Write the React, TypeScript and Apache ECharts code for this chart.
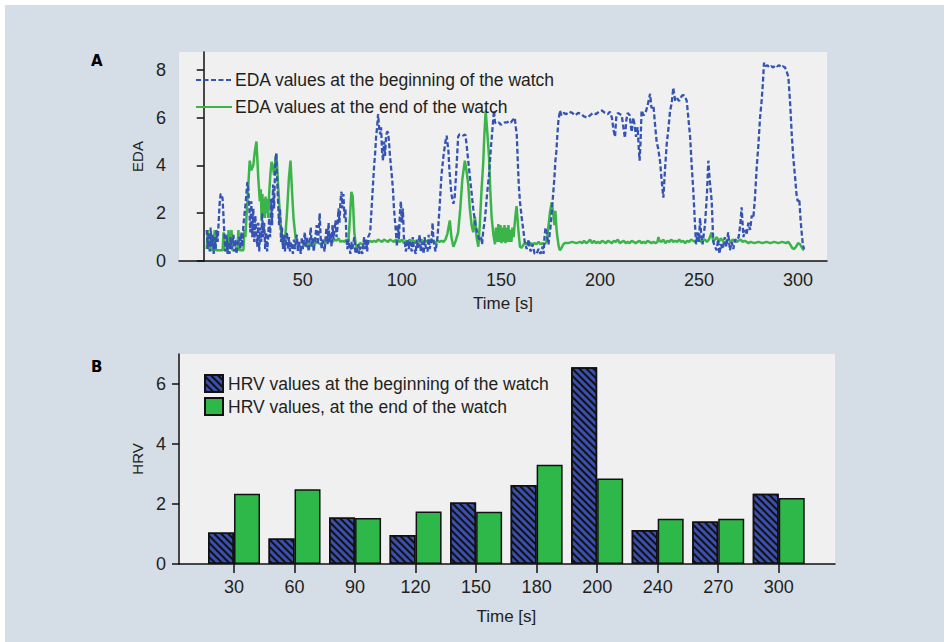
import React, { useEffect, useRef } from "react";
import * as echarts from "echarts";

// ---- Panel A: EDA traces [time (s), EDA] ----
const edaBeginning: number[][] = [
  [1.5,1.3],[2,0.5],[2.5,1.2],[3,0.4],[3.5,1.4],[4,0.6],[4.5,1.1],[5,0.3],[5.5,1.0],[6,0.5],[6.5,1.3],[7,0.8],[7.5,1.6],[8,2.4],[8.5,2.8],[9,2.8],[9.5,2.6],[10,1.8],[10.5,1.0],[11,0.4],[11.5,1.1],[12,0.3],[12.5,0.8],[13,0.3],[13.5,1.0],[14,0.5],[15,1.1],[15.5,0.4],[16,0.9],[16.5,0.3],[17,0.7],[18,1.0],[18.5,0.5],[19,1.2],[19.5,0.6],[20,1.5],[21,2.3],[22,3.3],[22.5,3.0],[23,2.2],[23.5,1.2],[24,2.5],[24.5,1.0],[25,2.2],[25.5,0.8],[26,1.9],[26.5,1.2],[27,0.6],[27.5,1.6],[28,0.4],[28.5,1.4],[29,0.8],[29.5,2.0],[30,1.0],[30.5,1.6],[31,0.5],[31.5,1.2],[32,0.4],[32.5,1.0],[33,1.8],[33.5,1.0],[34,2.6],[34.5,1.5],[35,3.2],[35.5,2.2],[36,3.9],[36.5,4.5],[37,3.5],[37.5,2.5],[38,1.5],[38.5,2.2],[39,0.8],[39.5,1.4],[40,0.5],[40.5,1.1],[41,0.4],[41.5,0.9],[42,1.2],[42.5,0.5],[43,1.0],[43.5,0.4],[44,0.8],[45,0.3],[45.5,0.9],[46,0.5],[47,1.1],[47.5,0.4],[48,0.8],[49,0.3],[49.5,1.0],[50,0.5],[51,1.2],[51.5,0.6],[52,1.0],[53,0.4],[53.5,0.9],[54,1.4],[54.5,0.6],[55,1.0],[55.5,0.4],[56,0.8],[57,1.5],[57.5,0.7],[58,1.2],[58.5,2.0],[59,1.0],[59.5,0.5],[60,0.9],[61,0.4],[61.5,1.0],[62,1.4],[62.5,0.7],[63,1.6],[63.5,0.8],[64,1.2],[64.5,0.6],[65,1.5],[65.5,0.9],[66,1.3],[66.5,1.7],[67,1.0],[67.5,1.4],[68,2.2],[68.5,1.6],[69,2.5],[69.5,2.9],[70,2.2],[70.5,2.8],[71,1.8],[71.5,2.2],[72,1.0],[72.5,0.5],[73,0.9],[74,0.3],[74.5,0.8],[75,0.5],[76,1.0],[76.5,0.4],[77,0.3],[78,0.7],[78.5,0.3],[79,0.6],[80,0.3],[80.5,0.7],[81,1.0],[81.5,0.5],[82,0.9],[82.5,0.4],[83,1.0],[84,1.2],[85,2.6],[86,4.0],[86.5,4.5],[87,5.2],[87.5,5.6],[88,6.15],[88.5,5.6],[89,5.3],[89.5,5.6],[90,4.6],[90.5,4.2],[91,5.0],[91.5,4.4],[92,5.2],[92.5,5.4],[93,5.4],[93.5,5.0],[94,4.4],[95,3.5],[95.5,3.0],[96,2.2],[97,1.2],[97.5,0.6],[98,1.5],[98.5,0.9],[99,2.0],[99.5,2.5],[100,1.6],[100.5,2.2],[101,1.0],[101.5,0.8],[102,0.4],[103,0.9],[103.5,0.5],[104,0.8],[105,0.4],[105.5,1.0],[106,0.6],[107,0.3],[107.5,0.9],[108,0.5],[109,1.1],[109.5,0.4],[110,0.8],[111,0.3],[111.5,1.0],[112,0.6],[113,0.4],[113.5,1.1],[114,0.5],[115,0.9],[115.5,1.6],[116,0.8],[117,0.4],[118,1.0],[119,2.2],[120,3.6],[121,4.4],[122,5.0],[122.6,5.25],[123.5,4.6],[124,3.8],[125,2.8],[126,2.4],[126.6,2.6],[127.5,3.8],[128.4,5.2],[129,5.3],[130,5.3],[131,5.25],[132,5.3],[132.5,5.0],[133.3,4.35],[134,3.8],[135,3.0],[136,2.2],[137,1.6],[138,1.2],[139,0.9],[140,1.0],[140.5,0.7],[141,1.2],[142,1.8],[143,2.8],[144,3.6],[145,4.8],[146,5.8],[146.5,6.3],[147,5.8],[148,5.75],[149,5.8],[150,5.7],[151,5.75],[152,5.8],[153,5.8],[154,5.85],[155,5.8],[156,5.9],[157,6.0],[157.5,5.6],[158,5.3],[158.5,4.2],[159,3.2],[159.6,2.5],[160.5,1.8],[161.3,1.3],[162,0.8],[163,0.5],[164,0.9],[164.5,0.6],[165,0.4],[166,0.7],[167,0.3],[168,0.3],[169,0.5],[170,0.3],[171,0.6],[171.5,0.3],[172,1.0],[172.5,1.4],[173,1.2],[174,0.7],[175,1.4],[176,2.4],[177,3.5],[177.5,4.2],[178,4.6],[178.5,5.3],[179,5.85],[179.8,6.3],[180.5,6.1],[181.5,6.2],[183,6.15],[184.5,6.25],[186,6.2],[187.5,6.1],[189,6.2],[190.5,6.15],[192,6.05],[193.5,6.0],[195,6.1],[196.5,6.2],[198,6.15],[199.5,6.25],[201,6.3],[202.5,6.2],[204,6.15],[205,6.25],[206,6.0],[206.8,5.5],[207.6,5.2],[208.2,6.0],[209,6.2],[210,6.15],[211,6.1],[211.8,5.6],[212.6,5.15],[213.3,5.9],[214,6.2],[215,6.1],[215.5,5.7],[216,5.4],[216.8,6.0],[217.5,5.7],[218.2,5.2],[219,5.6],[219.6,4.7],[220,4.2],[220.5,5.0],[221,6.3],[222,6.1],[223,6.2],[224,6.5],[225.3,7.0],[226,6.4],[227,6.5],[227.7,5.8],[228.6,5.0],[229.4,4.7],[230.3,4.2],[231,3.5],[232,2.65],[232.8,3.8],[233.7,4.9],[234.5,5.5],[235.4,6.3],[236.2,6.6],[237,7.25],[238,6.7],[239,6.8],[240,6.7],[241.2,6.9],[242,6.95],[242.9,6.9],[243.8,6.7],[244.6,6.0],[245.5,5.2],[246.3,4.0],[247.1,2.95],[247.8,1.8],[248.5,0.7],[249.3,1.2],[250,0.8],[250.5,1.8],[251.2,1.0],[251.8,0.7],[252.5,1.2],[253,1.5],[254,2.8],[254.7,4.2],[255.5,3.3],[256.4,2.5],[257.2,0.8],[258,0.6],[258.9,0.45],[259.6,0.9],[260.3,0.3],[261,0.7],[262,0.5],[263,1.0],[263.8,0.6],[264.7,1.2],[265.6,0.45],[266.5,0.8],[267.3,0.5],[268.2,0.9],[269,0.85],[270,1.0],[270.8,1.5],[271.5,2.25],[272.4,1.0],[273.2,1.3],[274,1.1],[274.9,1.6],[275.8,1.3],[276.6,1.9],[277.4,1.8],[278.2,2.6],[279.1,3.9],[280,4.9],[280.8,6.0],[281.5,6.6],[282.2,7.4],[282.8,8.3],[283.5,8.15],[284.5,8.2],[285.5,8.1],[286.5,8.15],[287.5,8.1],[288.5,8.2],[289.5,8.15],[290.5,8.2],[291.5,8.1],[292.5,8.15],[293.4,8.1],[294.2,7.95],[295.1,7.7],[296,6.6],[296.8,5.3],[297.6,4.3],[298.5,3.5],[299.2,2.8],[299.8,2.5],[300.6,2.6],[301.2,1.8],[301.8,1.2],[302.4,0.7],[303,0.5]
];

const edaEnd: number[][] = [
  [1.5,0.5],[2,1.3],[2.5,0.5],[3,1.1],[3.5,0.45],[5,0.45],[5.5,1.3],[6,0.45],[9.5,0.45],[10,1.2],[10.5,0.45],[12,0.45],[12.5,1.3],[13,0.5],[14,1.3],[14.5,0.45],[17,0.45],[17.5,1.3],[18,0.45],[20,0.45],[20.5,1.3],[21,1.0],[22,2.5],[23.2,4.2],[24,3.8],[25,4.0],[25.8,4.6],[26.6,5.0],[27.5,3.5],[28.3,2.5],[28.8,3.0],[29.2,1.7],[29.6,2.8],[30,1.9],[30.4,2.6],[30.8,1.8],[31.2,2.7],[31.6,2.0],[32,2.6],[32.5,1.8],[33,2.8],[33.6,3.6],[34.2,4.15],[35,3.9],[35.5,3.6],[36.2,4.3],[36.7,4.5],[37.5,3.2],[38.4,2.0],[39.2,1.2],[40,0.7],[41,0.85],[42,2.0],[43,3.5],[43.8,4.2],[44.5,3.0],[45.3,1.8],[46.5,0.85],[47.5,0.7],[48.5,0.5],[50,0.6],[51,0.7],[52,0.6],[53,0.75],[54,0.65],[55,0.75],[56,0.7],[57,0.8],[58,0.75],[59,0.7],[60,0.8],[61,0.75],[62,0.85],[63,0.8],[64,0.9],[65,0.8],[66,0.9],[67,0.85],[68,0.95],[69,0.8],[70,0.85],[71,0.8],[72,0.9],[73,0.8],[73.8,1.8],[74.5,2.9],[75.2,2.7],[76,1.2],[77,0.5],[78,0.65],[79,0.75],[80,0.7],[81,0.75],[82,0.8],[83,0.75],[84,0.85],[85,0.8],[86,0.85],[87,0.8],[88,0.9],[89,0.85],[90,0.8],[91,0.9],[92,0.85],[93,0.8],[94,0.9],[95,0.85],[96,0.8],[97,0.9],[98,0.85],[99,0.8],[100,0.9],[101,0.75],[102,0.85],[103,0.8],[104,0.9],[105,0.8],[106,0.85],[107,0.75],[108,0.85],[109,0.8],[110,0.9],[111,0.75],[112,0.85],[113,0.8],[114,0.9],[115,0.8],[116,0.85],[117,0.75],[118,0.85],[119,0.8],[120,0.85],[121,0.8],[122,0.9],[123,1.15],[124.2,1.7],[125,1.0],[126,0.6],[127,0.8],[128.4,1.2],[129.5,2.2],[130.5,3.4],[131.8,4.2],[132.6,3.8],[133.5,3.2],[134.3,2.2],[135.2,1.5],[136,1.2],[136.9,1.85],[137.7,1.0],[138.6,0.6],[139.4,1.6],[140.2,2.95],[141,4.0],[141.6,5.2],[142.3,6.3],[143.2,5.3],[144,4.35],[144.6,3.0],[145.3,1.85],[146.2,1.1],[147,0.7],[147.5,1.4],[148,0.8],[148.7,1.55],[149.2,0.8],[149.8,1.5],[150.3,0.75],[150.8,1.4],[151.3,0.8],[151.8,1.5],[152.3,0.75],[152.8,1.4],[153.3,0.8],[153.8,1.5],[154.3,0.8],[154.8,1.3],[155.3,0.8],[155.8,1.4],[156.4,1.0],[157.2,1.8],[157.9,2.3],[158.7,1.4],[159.6,0.6],[160.4,0.55],[161.5,0.7],[163,0.75],[164,0.65],[165,0.75],[166,0.7],[167,0.75],[168,0.7],[169,0.8],[170,0.7],[171,0.75],[172,0.7],[173,0.8],[173.8,1.3],[174.7,2.0],[175.6,2.45],[176.4,2.0],[177,1.5],[177.5,2.1],[178,1.4],[178.5,1.0],[179.2,0.6],[179.8,0.45],[180.6,0.55],[181.5,0.7],[182.3,0.75],[184,0.75],[186,0.8],[188,0.75],[190,0.8],[191,0.75],[192,0.85],[193,0.75],[194,0.8],[195,0.9],[196,0.75],[197,0.85],[198,0.75],[199,0.8],[200,0.75],[201,0.85],[202,0.8],[203,0.75],[204,0.85],[205,0.8],[206,0.75],[207,0.85],[208,0.8],[209,0.9],[210,0.75],[211,0.8],[212,0.85],[213,0.75],[214,0.8],[215,0.75],[216,0.85],[217,0.8],[218,0.75],[219,0.8],[220,0.85],[221,0.75],[222,0.8],[223,0.75],[224,0.85],[225,0.8],[226,0.75],[227,0.8],[228,0.75],[229,0.8],[229.5,1.0],[230,0.85],[231,0.8],[232,0.9],[233,0.75],[234,0.85],[235,0.8],[236,0.9],[237,0.8],[238,0.85],[239,0.8],[240,0.9],[241,0.8],[242,0.85],[243,0.75],[244,0.85],[245,0.8],[246,0.9],[247,0.85],[248,0.8],[249,0.85],[250,0.9],[251,0.8],[252,0.85],[253,0.9],[254,0.8],[255,0.9],[256.4,1.2],[257.2,0.8],[258,0.9],[259,1.0],[260,0.8],[261,0.95],[262,0.85],[263,0.75],[264,0.85],[265,0.9],[266,0.8],[267,0.9],[268,0.85],[269,0.8],[270,0.85],[271,0.9],[272,0.8],[273,0.85],[274,0.8],[275,0.75],[276,0.8],[278,0.75],[280,0.8],[282,0.75],[284,0.8],[286,0.75],[288,0.8],[290,0.75],[292,0.8],[294,0.75],[295,0.8],[296,0.7],[297,0.55],[298,0.5],[299,0.6],[300,0.75],[301,0.7],[302.4,0.5],[303,0.45]
];

const edaTimeTicks = [50, 100, 150, 200, 250, 300];
const edaValueTicks = [0, 2, 4, 6, 8];

// ---- Panel B: HRV bars ----
const hrvCategories = ["30", "60", "90", "120", "150", "180", "200", "240", "270", "300"];
const hrvBeginning = [1.05, 0.85, 1.55, 0.97, 2.05, 2.63, 6.56, 1.13, 1.42, 2.34];
const hrvEnd = [2.34, 2.49, 1.53, 1.75, 1.74, 3.31, 2.85, 1.51, 1.51, 2.2];
const hrvValueTicks = [0, 2, 4, 6];

const FONT = "Liberation Sans, Arial, sans-serif";
const TXT = "#231f20";
const BLUE = "#3553b3";
const GREEN = "#3bb54a";
const BAR_BLUE = "#3a4fae";
const BAR_GREEN = "#2fb84a";
const PLOT_BG = "#f0f0f0";
const PANEL_BG = "#d5dde6";

export default function App() {
  const ref = useRef<HTMLDivElement>(null);
  useEffect(() => {
    if (!ref.current) return;
    const chart = echarts.init(ref.current, null, { renderer: "svg" });
    const axisLineStyle = { color: "#111", width: 1.5 };
    const labelStyle = { fontFamily: FONT, fontSize: 18, color: TXT };
    const option: any = {
      animation: false,
      backgroundColor: "#ffffff",
      textStyle: { fontFamily: FONT },
      graphic: [
        { type: "rect", z: -100, shape: { x: 5, y: 5, width: 939, height: 637 }, style: { fill: PANEL_BG } },
        { type: "text", x: 91, y: 53, style: { text: "A", font: `900 15px DejaVu Sans, ${FONT}`, fill: "#000" } },
        { type: "text", x: 91, y: 359, style: { text: "B", font: `900 15px DejaVu Sans, ${FONT}`, fill: "#000" } },
      ],
      grid: [
        { left: 179, top: 52, width: 648, height: 209, show: true, backgroundColor: PLOT_BG, borderWidth: 0 },
        { left: 179, top: 354, width: 656, height: 210, show: true, backgroundColor: PLOT_BG, borderWidth: 0 },
        { left: 203.75, top: 354, width: 605.25, height: 210 },
      ],
      legend: [
        {
          orient: "vertical", left: 190, top: 66, itemWidth: 36, itemHeight: 14, itemGap: 9,
          textStyle: { fontFamily: FONT, fontSize: 17.5, color: TXT, padding: [0, 0, 0, -2] },
          data: [
            { name: "EDA values at the beginning of the watch", itemStyle: { opacity: 0 } },
            { name: "EDA values at the end of the watch", itemStyle: { opacity: 0 } },
          ],
        },
        {
          orient: "vertical", left: 199, top: 369, itemWidth: 18, itemHeight: 17, itemGap: 4,
          icon: "rect",
          textStyle: { fontFamily: FONT, fontSize: 17.5, color: TXT },
          data: ["HRV values at the beginning of the watch", "HRV values, at the end of the watch"],
        },
      ],
      xAxis: [
        {
          type: "value", gridIndex: 0, min: -12.5, max: 314.6,
          axisLine: { show: true, lineStyle: axisLineStyle },
          axisTick: { show: false },
          splitLine: { show: false },
          axisLabel: { ...labelStyle, margin: 10, customValues: edaTimeTicks },
          name: "Time [s]", nameLocation: "middle", nameGap: 34,
          nameTextStyle: { fontFamily: FONT, fontSize: 17, color: TXT },
        },
        {
          type: "value", gridIndex: 1, min: 0, max: 1,
          axisLine: { show: true, lineStyle: axisLineStyle },
          axisTick: { show: false }, axisLabel: { show: false }, splitLine: { show: false },
        },
        {
          type: "category", gridIndex: 2, data: hrvCategories,
          axisLine: { show: false },
          axisTick: { show: true, alignWithLabel: true, length: 9, lineStyle: { color: "#111", width: 1.5 } },
          axisLabel: { ...labelStyle, margin: 14 },
          splitLine: { show: false },
          name: "Time [s]", nameLocation: "middle", nameGap: 44,
          nameTextStyle: { fontFamily: FONT, fontSize: 17, color: TXT },
        },
      ],
      yAxis: [
        {
          type: "value", gridIndex: 0, min: 0, max: 8.75,
          axisLine: { show: true, lineStyle: axisLineStyle },
          axisTick: { show: true, length: 7, lineStyle: { color: "#111", width: 1.5 }, customValues: edaValueTicks },
          axisLabel: { ...labelStyle, margin: 13, customValues: edaValueTicks },
          splitLine: { show: false },
          name: "EDA", nameLocation: "middle", nameGap: 30,
          nameTextStyle: { fontFamily: FONT, fontSize: 15, color: TXT },
        },
        {
          type: "value", gridIndex: 1, min: 0, max: 7,
          axisLine: { show: true, lineStyle: axisLineStyle },
          axisTick: { show: true, length: 7, lineStyle: { color: "#111", width: 1.5 }, customValues: hrvValueTicks },
          axisLabel: { ...labelStyle, margin: 13, customValues: hrvValueTicks },
          splitLine: { show: false },
          name: "HRV", nameLocation: "middle", nameGap: 30,
          nameTextStyle: { fontFamily: FONT, fontSize: 15, color: TXT },
        },
        {
          type: "value", gridIndex: 2, min: 0, max: 7, show: false,
          splitLine: { show: false },
        },
      ],
      series: [
        {
          name: "EDA values at the beginning of the watch", type: "line",
          xAxisIndex: 0, yAxisIndex: 0, data: edaBeginning, symbol: "none",
          lineStyle: { color: BLUE, width: 2.3, type: [5, 2.5] }, itemStyle: { color: BLUE }, z: 3,
        },
        {
          name: "EDA values at the end of the watch", type: "line",
          xAxisIndex: 0, yAxisIndex: 0, data: edaEnd, symbol: "none",
          lineStyle: { color: GREEN, width: 2.5 }, itemStyle: { color: GREEN }, z: 2,
        },
        {
          name: "HRV values at the beginning of the watch", type: "bar",
          xAxisIndex: 2, yAxisIndex: 2, data: hrvBeginning, barWidth: 26, barGap: "0%",
          itemStyle: {
            color: BAR_BLUE, borderColor: "#111", borderWidth: 1.5,
            decal: { symbol: "rect", symbolSize: 1, dashArrayX: [1, 0], dashArrayY: [2, 3], rotation: Math.PI / 4, color: "#111" },
          },
        },
        {
          name: "HRV values, at the end of the watch", type: "bar",
          xAxisIndex: 2, yAxisIndex: 2, data: hrvEnd, barWidth: 26, barGap: "0%",
          itemStyle: { color: BAR_GREEN, borderColor: "#111", borderWidth: 1.5 },
        },
      ],
    };
    chart.setOption(option);
    return () => chart.dispose();
  }, []);
  return (
    <div style={{ position: "absolute", left: 0, top: 0, width: 950, height: 642 }}>
      <div ref={ref} style={{ width: 950, height: 642 }} />
    </div>
  );
}
